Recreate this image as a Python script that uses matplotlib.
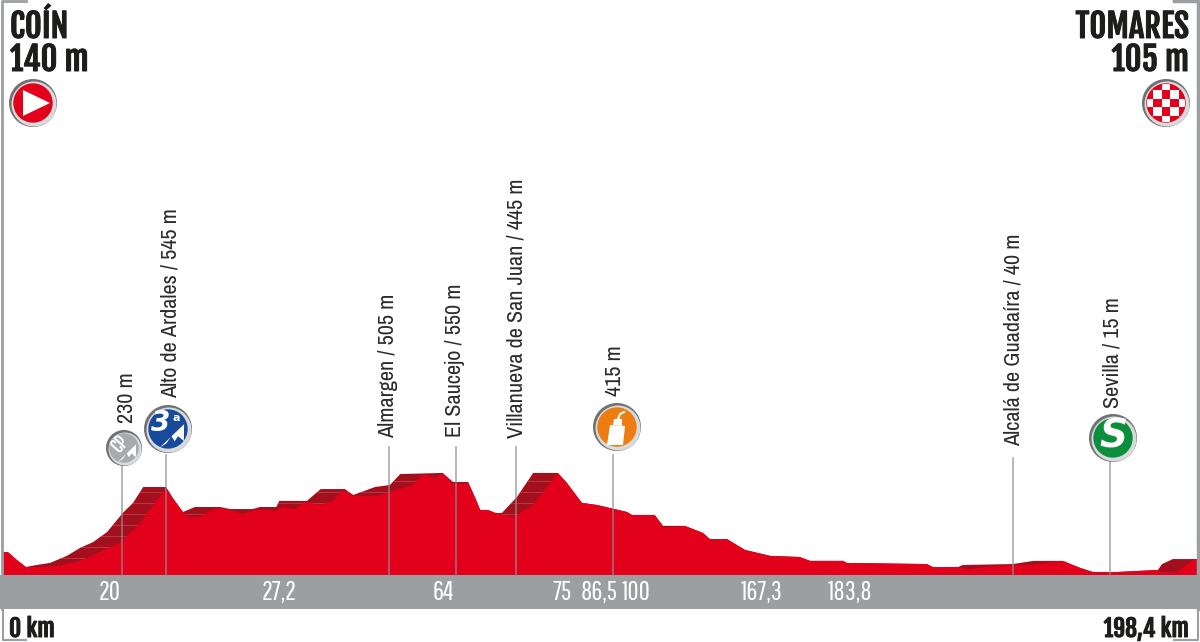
import numpy as np
import matplotlib
matplotlib.use('Agg')
import matplotlib.pyplot as plt
import matplotlib.patheffects as pe
from matplotlib.patches import Circle, Polygon, Rectangle

# Stage profile: back edge (dark top of the relief) and front edge (bright face)
back_km = [0, 0.8, 2.3, 3.8, 5.6, 7.8, 10.6, 12.8, 15.0, 17.3, 19.9, 21.6, 23.3, 27.1, 28.2, 29.9, 31.9,
           36.1, 37.7, 41.5, 42.7, 45.4, 45.9, 50.5, 52.8, 56.8, 58.2, 61.8, 64.3, 66.0, 73.0, 74.8, 77.3,
           78.4, 79.3, 80.6, 81.8, 82.9, 85.4, 88.1, 92.2, 93.7, 96.2, 98.7, 103.7, 104.5, 108.3, 109.7,
           113.3, 116.3, 117.5, 120.3, 123.3, 127.5, 132.4, 134.1, 139.6, 140.2, 153.5, 154.5, 158.7,
           159.5, 167.8, 171.2, 176.1, 179.0, 181.1, 185.1, 191.9, 192.6, 194.4, 198.4]
back_m = [124, 124, 81, 43, 54, 65, 103, 146, 178, 232, 335, 389, 475, 475, 416, 340, 367,
          367, 356, 356, 367, 367, 400, 400, 464, 464, 432, 475, 486, 545, 551, 502, 502,
          421, 351, 351, 335, 335, 421, 551, 551, 497, 389, 378, 340, 324, 324, 265,
          265, 227, 194, 194, 135, 103, 97, 76, 76, 65, 59, 43, 43,
          54, 59, 76, 76, 38, 16, 16, 27, 59, 86, 86]

front_km = [0, 0.8, 2.3, 3.8, 7.8, 12.3, 16.1, 19.4, 22.8, 27.1, 28.2, 29.9, 30.7, 32.7, 34.9, 36.1, 37.7,
            39.9, 42.2, 45.2, 46.5, 48.5, 50.2, 52.7, 54.8, 56.5, 58.2, 61.8, 64.3, 68.1, 69.8, 71.8, 73.1,
            74.8, 77.3, 78.4, 79.3, 80.6, 81.8, 82.6, 84.7, 88.1, 92.2, 93.7, 96.2, 98.7, 103.7, 104.5,
            108.3, 109.7, 110.8, 113.3, 116.3, 117.5, 120.3, 123.3, 127.5, 132.4, 134.1, 139.6, 140.2,
            153.5, 154.5, 158.7, 160.4, 163.2, 167.8, 170.6, 176.1, 179.0, 181.1, 185.1, 191.9, 192.6,
            195.1, 197.8, 198.4]
front_m = [124, 124, 81, 43, 43, 70, 124, 173, 281, 470, 416, 340, 313, 313, 356, 362, 351,
           329, 356, 346, 367, 356, 394, 378, 400, 459, 427, 427, 448, 486, 545, 524, 551,
           491, 497, 421, 351, 351, 335, 329, 313, 378, 551, 497, 389, 378, 340, 324,
           324, 254, 259, 265, 227, 189, 194, 135, 103, 97, 76, 76, 65,
           59, 43, 43, 32, 43, 54, 54, 76, 38, 16, 16, 27, 16,
           16, 81, 86]

# Waypoints along the route
way_names = ['230 m', 'Alto de Ardales / 545 m', 'Almargen / 505 m', 'El Saucejo / 550 m',
             'Villanueva de San Juan / 445 m', '415 m', 'Alcalá de Guadaíra / 40 m', 'Sevilla / 15 m']
way_km = [19.8, 27.1, 64.2, 75.3, 85.3, 101.4, 167.8, 184.0]

# Strip labels under the profile
strip_labels = ['20', '27,2', '64', '75', '86,5', '100', '167,3', '183,8']
strip_km = [17.8, 45.9, 73.1, 92.9, 99.0, 105.2, 126.0, 140.7]

BODY = ['Archivo Narrow', 'Roboto Condensed', 'Liberation Sans Narrow', 'Liberation Sans']
STRIP = ['Pathway Gothic One', 'Roboto Condensed', 'Liberation Sans Narrow', 'Liberation Sans']
HEAD = ['Fjalla One', 'Roboto Condensed', 'Liberation Sans Narrow', 'Liberation Sans']

fig = plt.figure(figsize=(12, 6.42), dpi=100)
ax = fig.add_axes([0, 0, 1, 1])
ax.set_xlim(-0.5, 198.9)
ax.set_ylim(-362, 3105)
ax.axis('off')

RED = '#e2001a'
DARK = '#a30f1c'
GREY = '#9b9fa2'
INK = '#1d1d1b'

back_poly = ax.fill([0] + back_km + [198.4], [0] + back_m + [0], color=DARK, lw=0, zorder=2)[0]
# light contour lines across the dark slopes
for lvl in [90, 150, 210, 270, 330, 390, 450, 510]:
    ln, = ax.plot([0, 198.4], [lvl, lvl], color='#bb4a54', lw=0.5, zorder=3)
    ln.set_clip_path(back_poly)
ax.fill([0] + front_km + [198.4], [0] + front_m + [0], color=RED, lw=0, zorder=4)
ax.fill_between([-0.5, 198.9], -184, 0, color=GREY, lw=0, zorder=5)

stem_tops = [465, 455, 447, 447, 447, 455, 458, 461]
text_x = [127, 171, 388, 455, 517, 615, 1014, 1112]
text_bottom = [423, 398, 438, 437, 438, 396, 446, 408]

# overlay in picture pixels for text offsets and the round icons
ov = fig.add_axes([0, 0, 1, 1])
ov.set_xlim(0, 1200)
ov.set_ylim(642, 0)
ov.axis('off')
ov.patch.set_alpha(0)


def km_px(km):
    return 3 + km * 6.018


for i in range(len(way_names)):
    x = km_px(way_km[i])
    ov.plot([x, x], [stem_tops[i], 575], color='#8d8f92', lw=1.2, alpha=0.75, zorder=6)
    ov.text(text_x[i], text_bottom[i], way_names[i], rotation=90, ha='center', va='bottom',
            fontsize=16, color='#2b2b2a', family=BODY)

for i in range(len(strip_labels)):
    ov.text(km_px(strip_km[i]), 592, strip_labels[i], ha='center', va='center',
            fontsize=19.5, color='white', family=STRIP)

# headers and end labels, thickened a little to match the heavy condensed face
heavy = [pe.withStroke(linewidth=0.7, foreground=INK)]
ov.text(10, 38, 'COÍN', fontsize=23.5, color=INK, ha='left', va='baseline', family=HEAD, path_effects=heavy)
ov.text(10, 71, '140 m', fontsize=23.5, color=INK, ha='left', va='baseline', family=HEAD, path_effects=heavy)
ov.text(1189, 38, 'TOMARES', fontsize=23.5, color=INK, ha='right', va='baseline', family=HEAD, path_effects=heavy)
ov.text(1189, 71, '105 m', fontsize=23.5, color=INK, ha='right', va='baseline', family=HEAD, path_effects=heavy)
ov.text(9, 637, '0 km', fontsize=17, color=INK, ha='left', va='baseline', family=HEAD, path_effects=heavy)
ov.text(1189, 637, '198,4 km', fontsize=17, color=INK, ha='right', va='baseline', family=HEAD, path_effects=heavy)

# frame corners
ov.plot([26, 2, 2], [1, 1, 609], color=GREY, lw=2, zorder=1)
ov.plot([3, 3, 26], [609, 640, 640], color=GREY, lw=1.5, zorder=1)
ov.plot([1174, 1198, 1198], [1, 1, 609], color=GREY, lw=2.5, zorder=1)
ov.plot([1198, 1198, 1174], [609, 640, 640], color=GREY, lw=1.5, zorder=1)


def badge(cx, cy, r, colour):
    ov.add_patch(Circle((cx, cy), r, fc='#6f7173', ec='none', zorder=7))
    ov.add_patch(Circle((cx + 1, cy + 1), r - 1.5, fc='#d8dadb', ec='none', zorder=7))
    ov.add_patch(Circle((cx, cy), r * 0.82, fc=colour, ec='none', zorder=8))


def mountain(cx, cy, r, colour):
    # white peak running to the upper right of the climb badges
    pts = [(-0.35, 0.78), (0.67, -0.2), (0.66, 0.5), (0.42, 0.3), (0.28, 0.51), (0.14, 0.3), (-0.07, 0.6)]
    ov.add_patch(Polygon([(cx + a * r, cy + b * r) for a, b in pts], fc=colour, ec='none', zorder=9))


# start
badge(33, 103, 24, RED)
ov.add_patch(Polygon([(23, 90), (23, 116), (50, 103)], fc='white', ec='none', zorder=9))

# finish, checkerboard clipped to the disc
badge(1166, 103, 24, RED)
for a in range(-3, 4):
    for b in range(-3, 4):
        if (a + b) % 2 == 0:
            sq = Rectangle((1166 + (a - 0.5) * 8.6, 103 + (b - 0.5) * 8.6), 8.6, 8.6, fc='white', ec='none', zorder=9)
            ov.add_patch(sq)
            sq.set_clip_path(Circle((1166, 103), 19, transform=ov.transData))

# CP
badge(124, 448, 18, '#a8aaad')
mountain(124, 448, 18, 'white')
ov.text(120, 444, 'CP', rotation=48, fontsize=12, color='white', ha='center', va='center', zorder=9, family=HEAD)

# 3rd category climb
badge(168, 429, 24, '#174a9b')
mountain(168, 429, 24, 'white')
ov.text(161, 423, '3', fontsize=20, fontweight='bold', style='oblique', color='white',
        ha='center', va='center', zorder=9, family='DejaVu Sans')
ov.text(176, 418, 'a', fontsize=8, fontweight='bold', color='white', ha='center', va='center', zorder=9,
        family='DejaVu Sans')

# feed zone bottle
badge(617, 427, 24, '#ee7d11')
ov.add_patch(Polygon([(610, 425), (625, 426), (623, 445), (607, 445)], fc='white', ec='none', zorder=9))
ov.add_patch(Polygon([(613, 425), (614, 419), (622, 419), (622, 426)], fc='white', ec='none', zorder=9))
ov.plot([618, 620, 624], [419, 414, 412], color='white', lw=1.5, zorder=9)

# sprint
badge(1113, 438, 24, '#0b8f3c')
ov.text(1113, 437, 'S', fontsize=28, fontweight='bold', style='oblique', color='white',
        ha='center', va='center', zorder=9, family='DejaVu Sans')

plt.savefig('out.png', dpi=100)
plt.close()
